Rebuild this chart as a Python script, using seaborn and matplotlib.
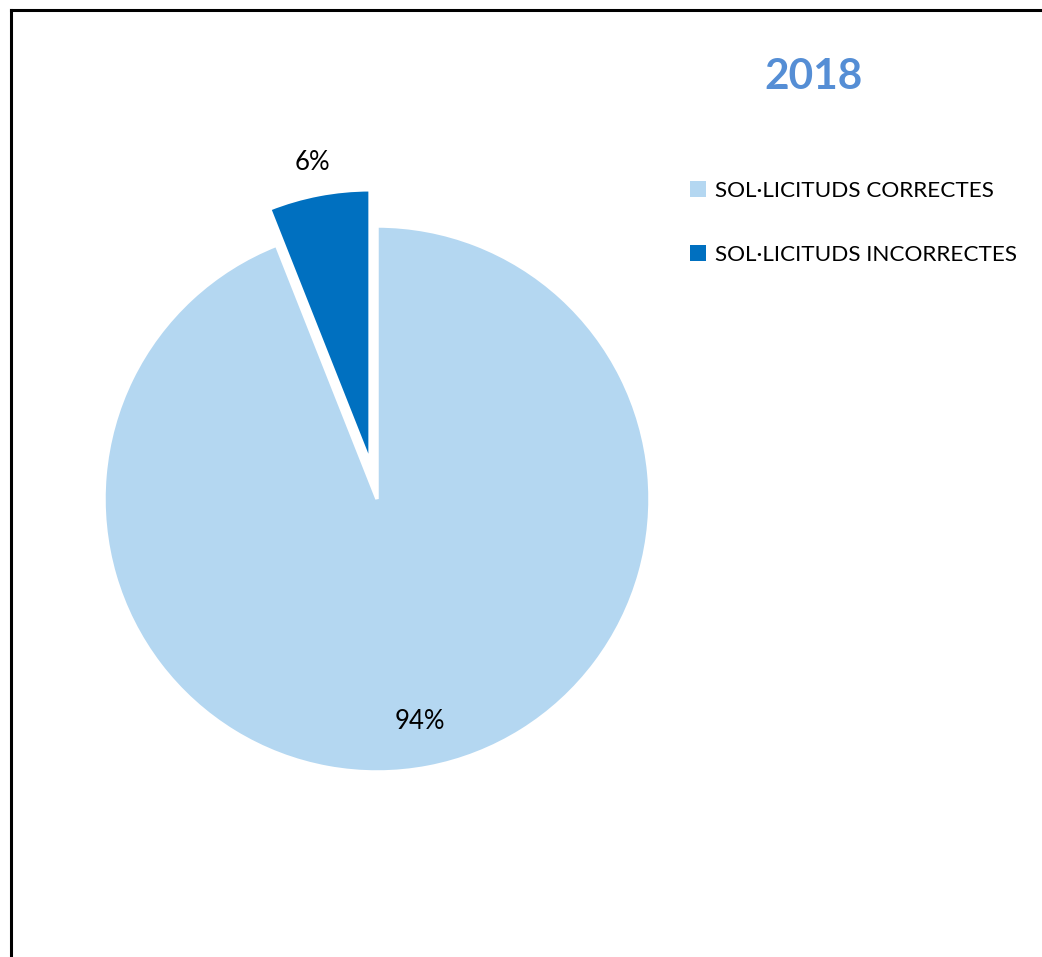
import numpy as np
import matplotlib
matplotlib.use("Agg")
import matplotlib.pyplot as plt
from matplotlib.lines import Line2D
import seaborn as sns

# ---- data ----
categories = ["SOL·LICITUDS CORRECTES", "SOL·LICITUDS INCORRECTES"]
values = [94, 6]
title_text = "2018"

# ---- style ----
colors = ["#B4D7F1", "#0070C0"]
explode = [0.0, 0.135]
label_dist = [0.83, 1.12]

sns.set_theme(style="white")
plt.rcParams["font.family"] = ["Lato", "DejaVu Sans"]

W, H = 1042, 957
fig = plt.figure(figsize=(W / 100, H / 100), dpi=100)
fig.patch.set_facecolor("white")

# pie axes: centre (377, 499) px, radius 273 px
cx, cy, R = 377, 499, 273
L = 1.35
half = R * L
ax = fig.add_axes([(cx - half) / W, (H - cy - half) / H, 2 * half / W, 2 * half / H])

wedges, texts = ax.pie(
    values,
    colors=colors,
    explode=explode,
    startangle=90,
    counterclock=False,
    wedgeprops=dict(edgecolor="white", linewidth=2.5),
    radius=1.0,
)
ax.set_xlim(-L, L)
ax.set_ylim(-L, L)
ax.set_aspect("equal")
ax.axis("off")

total = sum(values)
for w, v, d in zip(wedges, values, label_dist):
    ang = np.deg2rad((w.theta1 + w.theta2) / 2)
    x0, y0 = w.center
    ax.text(x0 + d * np.cos(ang), y0 + d * np.sin(ang), f"{round(100 * v / total)}%",
            ha="center", va="center", fontsize=18.5, color="#000000", clip_on=False)

# title
fig.text(814 / W, 1 - 77 / H, title_text, ha="center", va="center",
         fontsize=30.5, fontweight="bold", color="#558ED5")

# legend
handles = [plt.Rectangle((0, 0), 1, 1, facecolor=c, edgecolor="none") for c in colors]
fig.legend(handles, categories, loc="upper left", bbox_to_anchor=(690 / W, 1 - 181 / H),
           frameon=False, fontsize=16.2, handlelength=0.7, handleheight=0.7,
           handletextpad=0.4, labelspacing=1.95, borderaxespad=0, borderpad=0,
           labelcolor="black")

# frame (left and top borders)
fig.add_artist(Line2D([11 / W, 11 / W], [0, 1 - 10 / H], transform=fig.transFigure,
                      color="black", linewidth=2.2, solid_capstyle="projecting"))
fig.add_artist(Line2D([11 / W, 1], [1 - 10 / H, 1 - 10 / H], transform=fig.transFigure,
                      color="black", linewidth=2.2, solid_capstyle="projecting"))

fig.savefig("out.png", dpi=100, facecolor="white")
